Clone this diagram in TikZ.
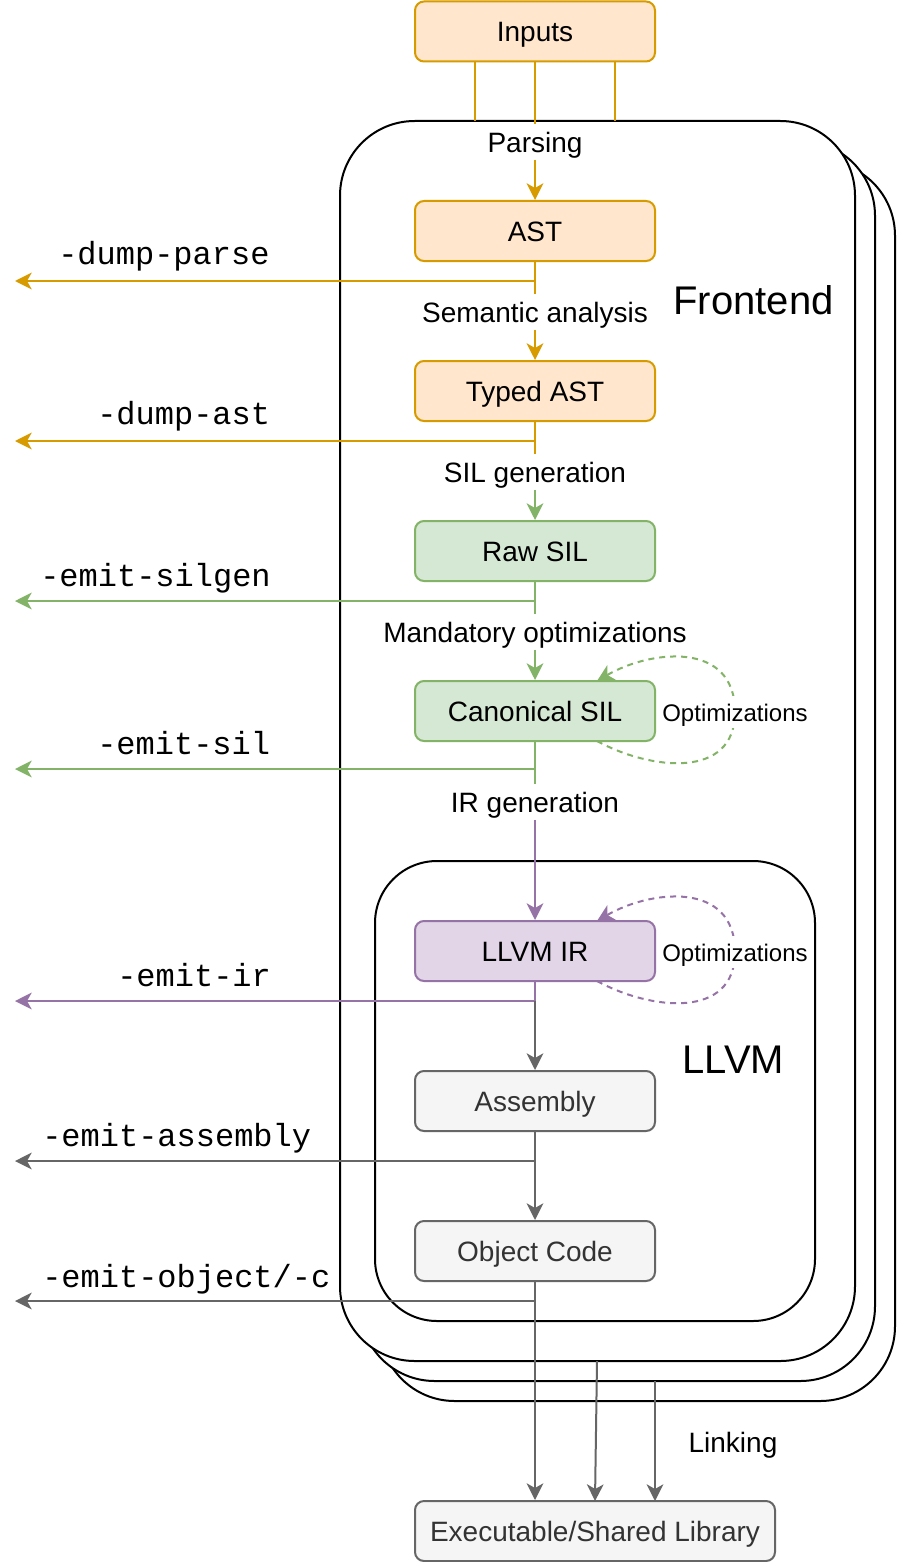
\documentclass[tikz,border=0pt]{standalone}
\usepackage{fontspec}
\setmainfont{Liberation Sans}
\newfontfamily\monof{Liberation Mono}
\usetikzlibrary{arrows.meta,calc}
\definecolor{oF}{HTML}{FFE6CC}
\definecolor{oD}{HTML}{D79B00}
\definecolor{gF}{HTML}{D5E8D4}
\definecolor{gD}{HTML}{82B366}
\definecolor{pF}{HTML}{E1D5E7}
\definecolor{pD}{HTML}{9673A6}
\definecolor{kF}{HTML}{F5F5F5}
\definecolor{kD}{HTML}{666666}
\definecolor{kT}{HTML}{333333}
\begin{document}
\begin{tikzpicture}[x=0.75pt,y=-0.75pt,
  >={Stealth[length=12.5pt,width=12.5pt,inset=3.5pt]},
  box/.style={draw, rounded corners=6.75pt, minimum width=180pt, minimum height=45pt, inner sep=0pt, line width=1.5pt, font=\fontsize{21}{25}\selectfont, text height=20pt, text depth=4.5pt},
  obox/.style={box, fill=oF, draw=oD},
  gbox/.style={box, fill=gF, draw=gD},
  pbox/.style={box, fill=pF, draw=pD},
  kbox/.style={box, fill=kF, draw=kD, text=kT},
  frame/.style={draw=black, fill=white, line width=1.5pt, inner sep=0pt},
  elbl/.style={fill=white, inner sep=1pt, font=\fontsize{21}{25}\selectfont, text height=20pt, text depth=4.5pt},
  biglbl/.style={inner sep=0pt, font=\fontsize{30}{36}\selectfont},
  optlbl/.style={fill=white, inner sep=1pt, font=\fontsize{18}{22}\selectfont, text height=17.8pt, text depth=4pt},
  mlbl/.style={inner sep=0pt, anchor=west, font=\monof\fontsize{24}{28}\selectfont, text height=15pt, text depth=4pt},
  oline/.style={draw=oD, line width=1.5pt},
  gline/.style={draw=gD, line width=1.5pt},
  pline/.style={draw=pD, line width=1.5pt},
  kline/.style={draw=kD, line width=1.5pt},
  dashloop/.style={line width=1.5pt, dash pattern=on 4.5pt off 3.75pt},
]
\useasboundingbox (0,0) rectangle (896,1562);
\fill[white] (0,0) rectangle (896,1562);

% Frontend frames (stacked)
\node[frame, rounded corners=56pt, minimum width=386.25pt, minimum height=930pt] (fe3) at (637.5,781) {};
\node[frame, rounded corners=56pt, minimum width=386.25pt, minimum height=930pt] (fe2) at (617.5,761) {};
\node[frame, rounded corners=56pt, minimum width=386.25pt, minimum height=930pt] (fe1) at (597.5,741) {};
% LLVM frame
\node[frame, rounded corners=46.5pt, minimum width=330pt, minimum height=345pt] (llvmf) at (595,1091) {};

\node[biglbl] (lfront) at (753.5,300) {Frontend};
\node[biglbl] (lllvm) at (733.5,1060) {LLVM};

% Boxes
\node[obox] (inputs) at (535,31.5) {Inputs};
\node[obox] (ast) at (535,231) {AST};
\node[obox] (tast) at (535,391) {Typed AST};
\node[gbox] (rsil) at (535,551) {Raw SIL};
\node[gbox] (csil) at (535,711) {Canonical SIL};
\node[pbox] (lir) at (535,951) {LLVM IR};
\node[kbox] (asm) at (535,1101) {Assembly};
\node[kbox] (obj) at (535,1251) {Object Code};
\node[kbox, minimum width=270pt] (exe) at (595,1531) {Executable/Shared Library};

% Edge labels
\node[elbl] (parsing) at (535,142) {Parsing};
\node[elbl] (sem) at (535,312) {Semantic analysis};
\node[elbl] (silgen) at (535,472) {SIL generation};
\node[elbl] (mand) at (535,632) {Mandatory optimizations};
\node[elbl] (irgen) at (535,802) {IR generation};
\node[elbl, inner sep=0pt] (linking) at (733,1442) {Linking};

% Inputs side lines
\coordinate (in1) at (475,61);
\coordinate (in1e) at (475,121);
\coordinate (in3) at (615,61);
\coordinate (in3e) at (615,121);
\draw[oline] (in1) -- (in1e);
\draw[oline] (in3) -- (in3e);

% Main chain
\draw[oline] (inputs) -- (parsing);
\draw[oline,->] (parsing) -- (ast);
\draw[oline] (ast) -- (sem);
\draw[oline,->] (sem) -- (tast);
\draw[oline] (tast) -- (silgen);
\draw[gline,->] (silgen) -- (rsil);
\draw[gline] (rsil) -- (mand);
\draw[gline,->] (mand) -- (csil);
\draw[gline] (csil) -- (irgen);
\draw[pline,->] (irgen) -- (lir);

% Side outputs
\coordinate (dpe) at (15,281);
\coordinate (dae) at (15,441);
\coordinate (sge) at (15,601);
\coordinate (sie) at (15,769);
\coordinate (ire) at (15,1001);
\coordinate (ase) at (15,1161);
\coordinate (obe) at (15,1301);
\draw[oline,->] (ast.south |- dpe) -- (dpe);
\draw[oline,->] (tast.south |- dae) -- (dae);
\draw[gline,->] (rsil.south |- sge) -- (sge);
\draw[gline,->] (csil.south |- sie) -- (sie);
\draw[pline] (lir.south) -- (lir.south |- ire);
\draw[pline,->] (lir.south |- ire) -- (ire);
\draw[kline,->] (lir.south |- ire) -- (asm.north);
\draw[kline,->] (asm) -- (obj);
\draw[kline,->] (asm.south |- ase) -- (ase);
\draw[kline,->] (obj.south |- obe) -- (obe);
\draw[kline,->] (obj.south) -- (obj.south |- exe.north);

\node[mlbl] (tdp) at (58,257) {-dump-parse};
\node[mlbl] (tda) at (97,417) {-dump-ast};
\node[mlbl] (tsg) at (40,579) {-emit-silgen};
\node[mlbl] (tsi) at (97,747) {-emit-sil};
\node[mlbl] (tir) at (117,979) {-emit-ir};
\node[mlbl] (tas) at (42,1139) {-emit-assembly};
\node[mlbl] (tob) at (42,1280) {-emit-object/-c};

% Linking arrows
\coordinate (lk2) at (597,1361);
\coordinate (lk2e) at (595,1501);
\coordinate (lk3) at (655,1381);
\coordinate (lk3e) at (655,1501);
\draw[kline,->] (lk2) -- (lk2e);
\draw[kline,->] (lk3) -- (lk3e);

% Optimization loops
\coordinate (c1s) at (597,741);
\coordinate (c1e) at (597,681);
\draw[dashloop, draw=gD, ->] (c1s) .. controls (650,770) and (735,780) .. (735,712) .. controls (735,640) and (650,650) .. (c1e);
\node[optlbl] (opt1) at (735,712) {Optimizations};
\coordinate (c2s) at (597,981);
\coordinate (c2e) at (597,921);
\draw[dashloop, draw=pD, ->] (c2s) .. controls (650,1010) and (735,1020) .. (735,952) .. controls (735,880) and (650,890) .. (c2e);
\node[optlbl] (opt2) at (735,952) {Optimizations};
\end{tikzpicture}
\end{document}
